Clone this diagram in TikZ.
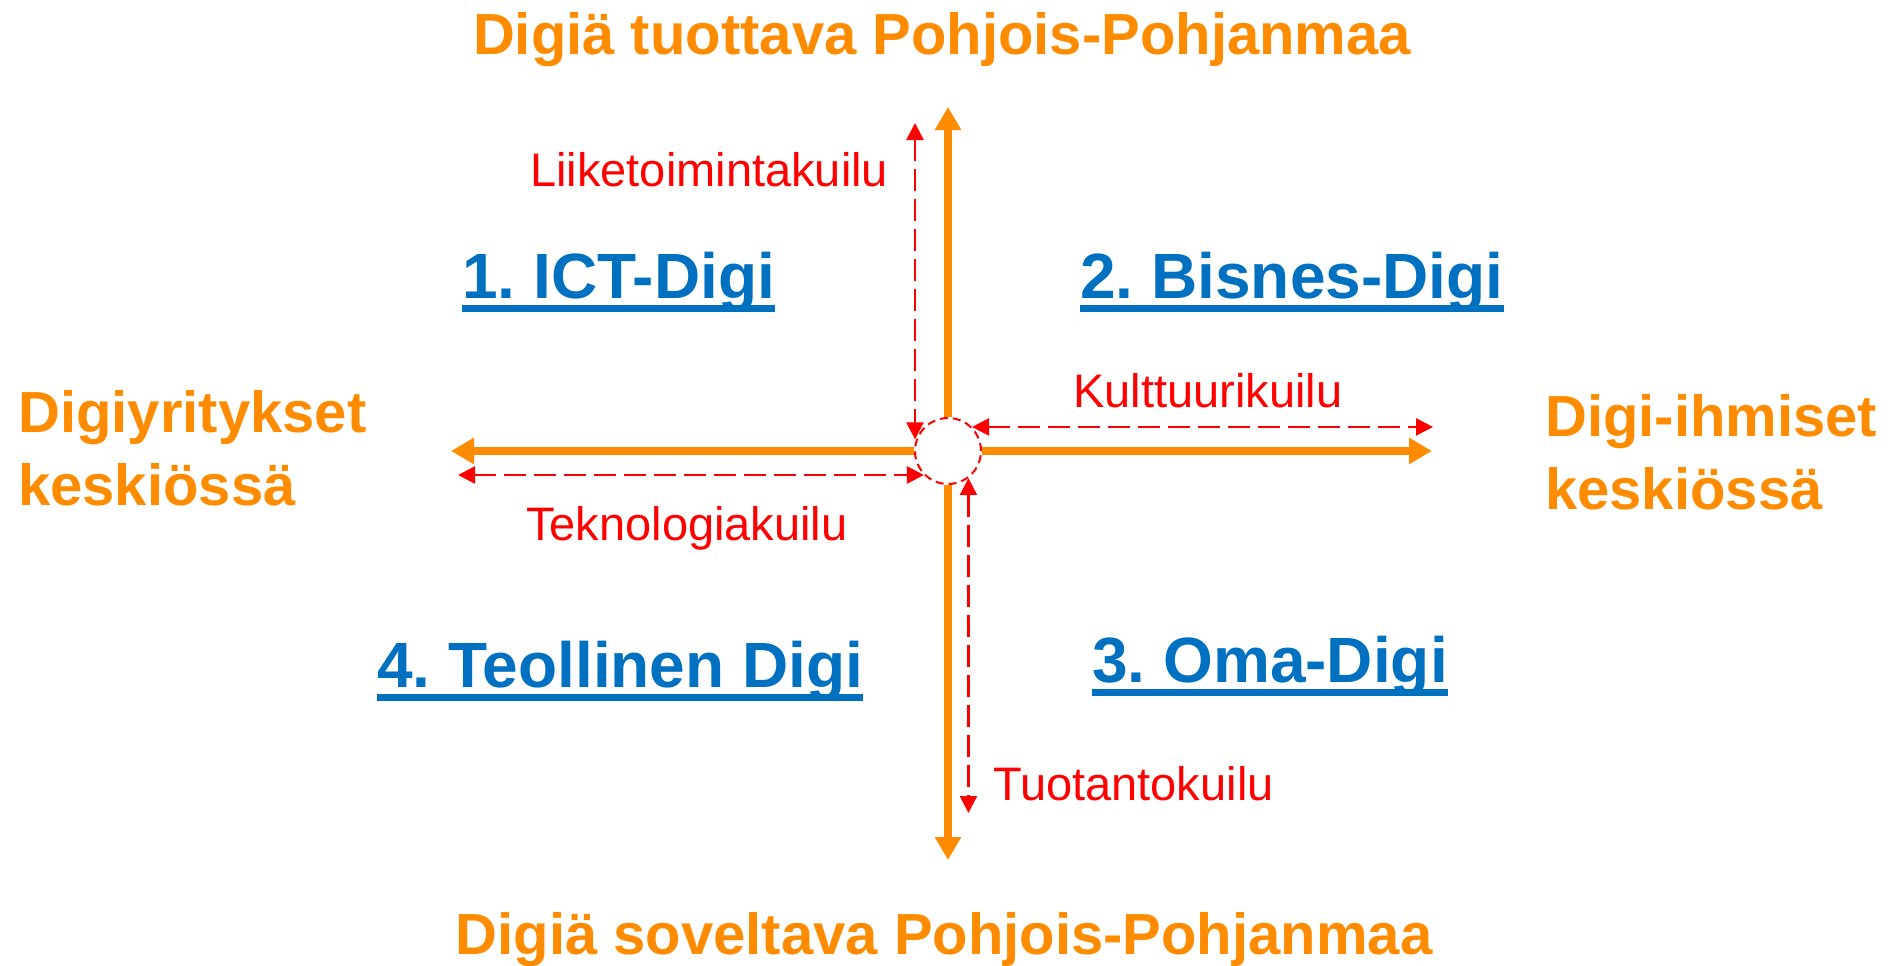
\documentclass[tikz,border=0pt]{standalone}
\usepackage{fontspec}
\setmainfont{Liberation Sans}
\usetikzlibrary{arrows.meta}
\usetikzlibrary{calc}
\definecolor{digiorange}{RGB}{255,140,0}
\definecolor{digiblue}{RGB}{0,112,192}
\definecolor{digired}{RGB}{255,0,0}
\frenchspacing

\begin{document}
\begin{tikzpicture}[x=1pt, y=-1pt,
    axis/.style={draw=digiorange, line width=8pt, -{Triangle[width=25pt,length=23pt]}},
    gap/.style={draw=digired, line width=2.5pt, dash pattern=on 22pt off 8pt,
        {Triangle[width=17pt,length=17pt]}-{Triangle[width=17pt,length=17pt]}},
    ring/.style={circle, draw=digired, line width=2pt, dash pattern=on 8pt off 5pt,
        minimum size=66pt, inner sep=0pt},
    side/.style={text=digiorange, font=\fontsize{58}{73}\selectfont\bfseries, inner sep=0pt},
    quad/.style={text=digiblue, font=\fontsize{64}{76}\selectfont\bfseries, inner sep=0pt, anchor=base west},
    gaplabel/.style={text=digired, font=\fontsize{47}{56}\selectfont, inner sep=0pt, anchor=base west}]
    \useasboundingbox (0,0) rectangle (1896,966);
    % centre and the four axes
    \node[ring] (c) at (948,451) {};
    \coordinate (north) at (948,107);
    \coordinate (south) at (948,860);
    \coordinate (west) at (451,451);
    \coordinate (east) at (1432,451);
    \draw[axis] (c.north) -- (north);
    \draw[axis] (c.south) -- (south);
    \draw[axis] (c.west) -- (west);
    \draw[axis] (c.east) -- (east);
    % gaps
    \coordinate (liike) at (915,123);
    \coordinate (kult) at (1433,428);
    \coordinate (tekno) at (458,475);
    \coordinate (tuot) at (968,813);
    \draw[gap] (liike) -- (liike |- c.160);
    \draw[gap] (c.45) -- (c.45 -| kult);
    \draw[gap] (tekno) -- (tekno -| c.225);
    \draw[gap] (c.-53) -- (c.-53 |- tuot);
    \node[gaplabel] (liikelabel) at (530,186) {Liiketoimintakuilu};
    \node[gaplabel] (kultlabel) at (1073,407) {Kulttuurikuilu};
    \node[gaplabel] (teknolabel) at (526,540) {Teknologiakuilu};
    \node[gaplabel] (tuotlabel) at (993,800) {Tuotantokuilu};
    % axis ends
    \node[side, anchor=base] (tuottava) at (942,55) {Digiä tuottava Pohjois-Pohjanmaa};
    \node[side, anchor=base] (soveltava) at (944,954) {Digiä soveltava Pohjois-Pohjanmaa};
    \node[side, anchor=north west, align=left] (yritykset) at (18,390) {Digiyritykset\\keskiössä};
    \node[side, anchor=north west, align=left] (ihmiset) at (1545,394) {Digi-ihmiset\\keskiössä};
    % quadrants
    \foreach \name/\qx/\qy/\txt in {ict/462/298/1. ICT-Digi, bisnes/1080/298/2. Bisnes-Digi,
        oma/1092/682/3. Oma-Digi, teol/377/687/4. Teollinen Digi}
    {
        \node[quad] (\name) at (\qx,\qy) {\txt};
        \draw[digiblue, line width=7pt] ($(\name.base west)+(0,10.5)$) -- ($(\name.base east)+(0,10.5)$);
    }
\end{tikzpicture}
\end{document}
